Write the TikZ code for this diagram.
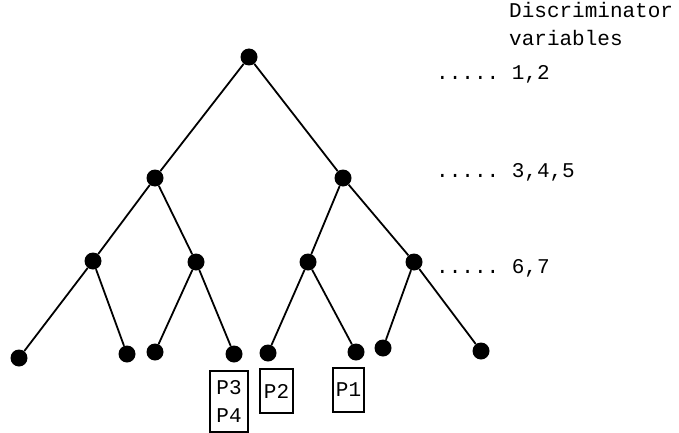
\documentclass[tikz,border=0pt]{standalone}
\usepackage{fontspec}
\setmonofont{Liberation Mono}
\begin{document}
\begin{tikzpicture}[x=1pt,y=-1pt,
  dot/.style={circle,fill=black,inner sep=0pt,minimum size=17pt},
  edge/.style={line width=1.8pt},
  lab/.style={font=\ttfamily\fontsize{21}{21}\selectfont,anchor=base west,inner sep=0pt},
  pbox/.style={draw,line width=1.5pt,inner sep=0pt,font=\ttfamily\fontsize{21}{28}\selectfont,align=center}]
\useasboundingbox (0,0) rectangle (679,433);
% nodes
\node[dot] (r) at (249,57) {};
\node[dot] (a) at (155,178) {};
\node[dot] (b) at (343,178) {};
\node[dot] (a1) at (93,261) {};
\node[dot] (a2) at (196,262) {};
\node[dot] (b1) at (308,262) {};
\node[dot] (b2) at (414,262) {};
\node[dot] (l1) at (19,358) {};
\node[dot] (l2) at (127,354) {};
\node[dot] (l3) at (155,352) {};
\node[dot] (l4) at (234,354) {};
\node[dot] (l5) at (268,353) {};
\node[dot] (l6) at (356,352) {};
\node[dot] (l7) at (383,348) {};
\node[dot] (l8) at (481,351) {};
% edges
\draw[edge] (r) -- (a);
\draw[edge] (r) -- (b);
\draw[edge] (a) -- (a1);
\draw[edge] (a) -- (a2);
\draw[edge] (b) -- (b1);
\draw[edge] (b) -- (b2);
\draw[edge] (a1) -- (l1);
\draw[edge] (a1) -- (l2);
\draw[edge] (a2) -- (l3);
\draw[edge] (a2) -- (l4);
\draw[edge] (b1) -- (l5);
\draw[edge] (b1) -- (l6);
\draw[edge] (b2) -- (l7);
\draw[edge] (b2) -- (l8);
% labels
\node[lab] (t1) at (509,18) {Discriminator};
\node[lab] (t2) at (509,46) {variables};
\node[lab] (v1) at (436,80) {..... 1,2};
\node[lab] (v2) at (436,177) {..... 3,4,5};
\node[lab] (v3) at (436,273) {..... 6,7};
% boxes
\node[pbox,minimum width=38pt,minimum height=61pt] (p34) at (229,401.5) {P3\\P4};
\node[pbox,minimum width=33pt,minimum height=44pt] (p2) at (276.5,391) {P2};
\node[pbox,minimum width=31pt,minimum height=44pt] (p1) at (348.5,390) {P1};
\end{tikzpicture}
\end{document}
